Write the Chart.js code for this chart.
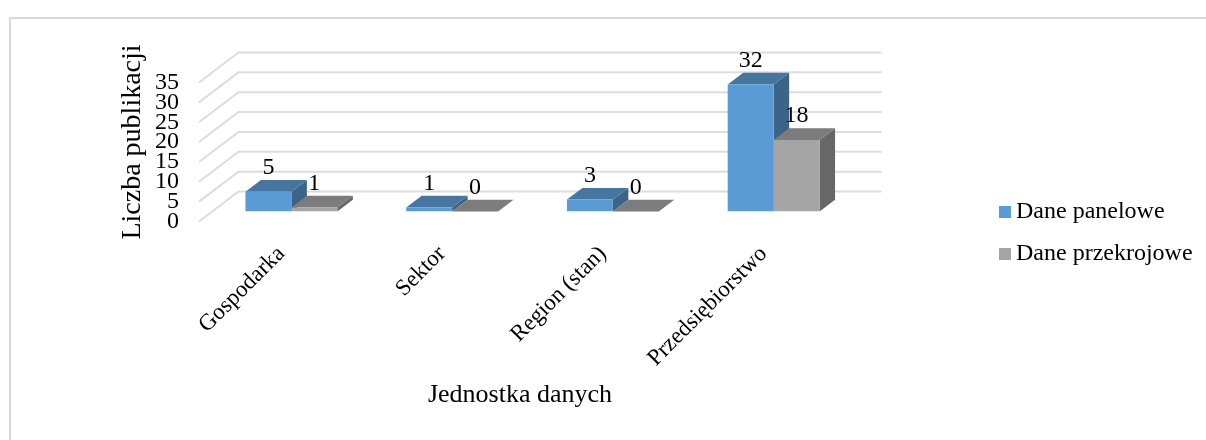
<!DOCTYPE html>
<html>
<head>
<meta charset="utf-8">
<script src="https://cdn.jsdelivr.net/npm/chart.js@4"></script>
<style>
html, body { margin: 0; padding: 0; background: #fff; overflow: hidden; }
#wrap { position: relative; width: 1206px; height: 440px; overflow: hidden; }
#frame { position: absolute; left: 9px; top: 17px; width: 1300px; height: 500px; border: 2px solid #d9d9d9; box-sizing: border-box; }
#legend { position: absolute; left: 999px; top: 189px; font: 24px "Liberation Serif"; color: #000; }
#legend div { height: 42px; line-height: 42px; white-space: nowrap; }
#legend i { display: inline-block; width: 12px; height: 12px; margin-right: 5px; }
canvas { position: absolute; left: 0; top: 0; }
</style>
</head>
<body>
<div id="wrap">
<div id="frame"></div>
<canvas id="myChart" width="1206" height="440"></canvas>
<div id="legend"></div>
</div>
<script>
const categories = ['Gospodarka', 'Sektor', 'Region (stan)', 'Przedsiębiorstwo'];
const panelValues = [5, 1, 3, 32];
const crossValues = [1, 0, 0, 18];
const seriesNames = ['Dane panelowe', 'Dane przekrojowe'];
const yTicks = [0, 5, 10, 15, 20, 25, 30, 35];
const xTitle = 'Jednostka danych';
const yTitle = 'Liczba publikacji';

const fontName = '"Liberation Serif"';
const faces = [
	{ front: '#5b9bd5', top: '#4675a0', side: '#3c6489' },
	{ front: '#a5a5a5', top: '#7c7c7c', side: '#676767' }
];
// depth of one bar and of the whole back wall
const barDepth = [15.5, -11.7];
const wallBack = [27.5, -20];
const wallFront = [-12, 10];

const box3d = {
	id: 'box3d',
	beforeDatasetsDraw(chart) {
		const ctx = chart.ctx;
		const area = chart.chartArea;
		const y = chart.scales.y;

		// walls
		ctx.save();
		ctx.strokeStyle = '#dcdcdc';
		ctx.lineWidth = 2;
		yTicks.forEach(function (v) {
			const py = y.getPixelForValue(v);
			ctx.beginPath();
			ctx.moveTo(area.left + wallFront[0], py + wallFront[1]);
			ctx.lineTo(area.left + wallBack[0], py + wallBack[1]);
			ctx.lineTo(area.right + wallBack[0], py + wallBack[1]);
			ctx.stroke();
		});

		// top and side of each bar, the fronts are the real bars
		chart.data.datasets.forEach(function (ds, d) {
			chart.getDatasetMeta(d).data.forEach(function (bar) {
				const l = bar.x - bar.width / 2;
				const r = bar.x + bar.width / 2;
				ctx.fillStyle = faces[d].side;
				ctx.beginPath();
				ctx.moveTo(r, bar.base);
				ctx.lineTo(r + barDepth[0], bar.base + barDepth[1]);
				ctx.lineTo(r + barDepth[0], bar.y + barDepth[1]);
				ctx.lineTo(r, bar.y);
				ctx.fill();
				ctx.fillStyle = faces[d].top;
				ctx.beginPath();
				ctx.moveTo(l, bar.y);
				ctx.lineTo(l + barDepth[0], bar.y + barDepth[1]);
				ctx.lineTo(r + barDepth[0], bar.y + barDepth[1]);
				ctx.lineTo(r, bar.y);
				ctx.fill();
			});
		});
		ctx.restore();
	},
	afterDatasetsDraw(chart) {
		const ctx = chart.ctx;
		ctx.save();
		ctx.font = '24px ' + fontName;
		ctx.fillStyle = '#000';
		ctx.textAlign = 'center';
		ctx.textBaseline = 'middle';
		chart.data.datasets.forEach(function (ds, d) {
			chart.getDatasetMeta(d).data.forEach(function (bar, i) {
				ctx.fillText(ds.data[i], bar.x, bar.y - 24);
			});
		});
		// x axis title sits left of the plot centre, the native one can't
		ctx.font = '26px ' + fontName;
		ctx.fillText(xTitle, 520, 395);
		ctx.restore();
	}
};

const data = {
	labels: categories,
	datasets: [
		{ label: seriesNames[0], data: panelValues, backgroundColor: faces[0].front },
		{ label: seriesNames[1], data: crossValues, backgroundColor: faces[1].front }
	]
};

const config = {
	type: 'bar',
	data: data,
	options: {
		responsive: false,
		animation: false,
		layout: { padding: { left: 0, right: 352, top: 72.5, bottom: 0 } },
		categoryPercentage: 0.5714,
		barPercentage: 1,
		plugins: { legend: { display: false }, tooltip: { enabled: false } },
		scales: {
			x: {
				grid: { display: false, drawTicks: false },
				border: { display: false },
				afterFit(scale) { scale.height = 228.5; },
				ticks: {
					color: '#000',
					font: { family: fontName, size: 23 },
					minRotation: 45,
					maxRotation: 45,
					padding: 29,
					labelOffset: -10,
					autoSkip: false
				}
			},
			y: {
				min: 0,
				max: 35,
				grid: { display: false, drawTicks: false },
				border: { display: false },
				afterFit(scale) { scale.width = 211; },
				afterBuildTicks(scale) {
					scale.ticks = yTicks.map(function (v) { return { value: v }; });
				},
				ticks: {
					color: '#000',
					font: { family: fontName, size: 24 },
					padding: 32,
					labelOffset: 10,
					autoSkip: false
				},
				title: {
					display: true,
					text: yTitle,
					color: '#000',
					font: { family: fontName, size: 28 },
					padding: { top: 116, bottom: 0 }
				}
			}
		}
	},
	plugins: [box3d]
};

const myChart = new Chart(document.getElementById('myChart'), config);

document.getElementById('legend').innerHTML = seriesNames.map(function (name, i) {
	return '<div><i style="background:' + faces[i].front + '"></i>' + name + '</div>';
}).join('');
</script>
</body>
</html>
